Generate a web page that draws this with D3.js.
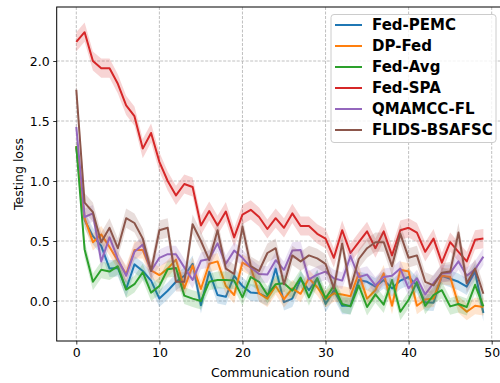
<!DOCTYPE html>
<html>
<head>
<meta charset="utf-8">
<script src="https://cdn.jsdelivr.net/npm/d3@7"></script>
<style>
html,body{margin:0;padding:0;background:#fff;}
svg{display:block;font-family:"DejaVu Sans",sans-serif;}
</style>
</head>
<body>
<svg id="chart" width="500" height="383"></svg>
<script>
const rounds = d3.range(0, 50);
const seriesNames = ["Fed-PEMC", "DP-Fed", "Fed-Avg", "Fed-SPA", "QMAMCC-FL", "FLIDS-BSAFSC"];
const colors = ["#1f77b4", "#ff7f0e", "#2ca02c", "#d62728", "#9467bd", "#8c564b"];

const fedPEMC = [1.28,0.675,0.54,0.46,0.27,0.275,0.10,0.305,0.25,0.17,0.02,0.085,0.16,0.21,0.31,-0.035,0.245,0.05,0.035,0.21,0.125,0.07,0.064,0.03,0.27,-0.01,0.02,0.18,0.09,0.19,-0.025,0.09,-0.04,-0.04,0.175,0.16,0.12,0.175,0.105,0.17,0.20,0.13,-0.01,-0.014,0.21,0.185,0.16,0.12,0.245,-0.10];
const dpFed = [1.29,0.69,0.49,0.555,0.45,0.335,0.225,0.425,0.425,0.255,0.215,0.27,0.345,0.105,0.295,0.10,0.31,0.33,0.125,0.05,0.32,0.28,0.064,0.02,0.125,0.015,0.105,0.06,0.19,0.115,0.015,0.064,0.055,0.04,0.23,0.02,0.09,0.23,-0.04,0.26,0.245,-0.04,0.012,0.02,0.21,0.20,-0.03,-0.09,-0.04,-0.05];
const fedAvg = [1.29,0.43,0.16,0.26,0.245,0.29,0.095,0.14,0.24,0.07,0.125,0.265,0.275,0.045,0.02,0.0,0.16,0.175,0.175,0.17,0.03,0.20,0.16,0.05,0.14,0.147,0.086,0.195,0.03,0.19,0.022,0.125,-0.025,-0.045,0.13,-0.05,0.055,-0.03,0.175,-0.09,0.01,0.16,-0.04,0.05,0.09,-0.045,-0.025,-0.05,0.135,-0.045];
const fedSPA = [2.16,2.24,2.00,1.94,1.94,1.81,1.63,1.54,1.27,1.40,1.16,1.00,0.88,0.975,0.95,0.63,0.75,0.63,0.745,0.53,0.72,0.76,0.70,0.60,0.69,0.61,0.73,0.625,0.625,0.56,0.52,0.36,0.59,0.40,0.49,0.58,0.44,0.58,0.38,0.59,0.61,0.57,0.41,0.52,0.32,0.49,0.41,0.33,0.51,0.52];
const qmamccFL = [1.45,0.70,0.73,0.33,0.53,0.35,0.21,0.41,0.47,0.25,0.36,0.39,0.39,0.28,0.175,0.335,0.35,0.48,0.31,0.42,0.36,0.28,0.225,0.22,0.34,0.26,0.42,0.425,0.18,0.22,0.245,0.19,0.17,0.375,0.20,0.22,0.13,0.20,0.21,0.27,0.105,0.19,0.055,0.15,0.23,0.235,0.33,0.21,0.265,0.37];
const flidsBSAFSC = [1.76,0.82,0.74,0.49,0.61,0.44,0.69,0.65,0.52,0.25,0.59,0.61,0.16,0.16,0.64,0.50,0.34,0.59,0.27,0.225,0.62,0.29,0.25,0.40,0.44,0.14,0.38,0.33,0.38,0.355,0.31,0.105,0.48,0.105,0.35,0.44,0.49,0.49,0.29,0.56,0.36,0.38,0.16,0.13,0.235,0.245,0.57,0.147,0.27,0.06];
const bandHalfWidth = [0.07, 0.07, 0.07, 0.08, 0.07, 0.08];

const xTicks = [0, 10, 20, 30, 40, 50];
const yTicks = [0.0, 0.5, 1.0, 1.5, 2.0];
const xLabel = "Communication round";
const yLabel = "Testing loss";

const allSeries = [fedPEMC, dpFed, fedAvg, fedSPA, qmamccFL, flidsBSAFSC];

const svg = d3.select("#chart");
const plot = {left: 56.7, right: 504, top: 7, bottom: 341};

const x = d3.scaleLinear().domain([0, 50]).range([76.3, 491.7]);
const y = d3.scaleLinear().domain([0, 2]).range([301, 61]);

svg.append("defs").append("clipPath").attr("id", "clip")
  .append("rect").attr("x", plot.left).attr("y", plot.top)
  .attr("width", plot.right - plot.left).attr("height", plot.bottom - plot.top);

// grid
const grid = svg.append("g");
grid.selectAll(".gx").data(xTicks).join("line")
  .attr("x1", d => x(d)).attr("x2", d => x(d))
  .attr("y1", plot.top).attr("y2", plot.bottom)
  .attr("stroke", "#b0b0b0").attr("stroke-width", 0.8)
  .attr("stroke-dasharray", "3,1.5");
grid.selectAll(".gy").data(yTicks).join("line")
  .attr("x1", plot.left).attr("x2", plot.right)
  .attr("y1", d => y(d)).attr("y2", d => y(d))
  .attr("stroke", "#b0b0b0").attr("stroke-width", 0.8)
  .attr("stroke-dasharray", "3,1.5");

const g = svg.append("g").attr("clip-path", "url(#clip)");
const area = d3.area().x((d, i) => x(rounds[i]));
const line = d3.line().x((d, i) => x(rounds[i])).y(d => y(d));

allSeries.forEach((s, k) => {
  const hw = bandHalfWidth[k];
  g.append("path").datum(s)
    .attr("d", d3.area().x((d, i) => x(rounds[i])).y0(d => y(d - hw)).y1(d => y(d + hw)))
    .attr("fill", colors[k]).attr("fill-opacity", 0.2).attr("stroke", "none");
  g.append("path").datum(s)
    .attr("d", line)
    .attr("fill", "none").attr("stroke", colors[k]).attr("stroke-width", 2)
    .attr("stroke-linejoin", "round");
});

// axes
const xAxis = svg.append("g").attr("transform", `translate(0,${plot.bottom})`)
  .call(d3.axisBottom(x).tickValues(xTicks).tickSize(3.5).tickPadding(3.5).tickFormat(d3.format("d")));
const yAxis = svg.append("g").attr("transform", `translate(${plot.left},0)`)
  .call(d3.axisLeft(y).tickValues(yTicks).tickSize(3.5).tickPadding(3.5).tickFormat(d3.format(".1f")));
[xAxis, yAxis].forEach(a => {
  a.select(".domain").remove();
  a.selectAll("line").attr("stroke", "#000").attr("stroke-width", 0.8);
  a.selectAll("text").attr("font-family", "DejaVu Sans").attr("font-size", 12.5).attr("fill", "#000");
});

// spines
svg.append("rect").attr("x", plot.left).attr("y", plot.top)
  .attr("width", plot.right - plot.left).attr("height", plot.bottom - plot.top)
  .attr("fill", "none").attr("stroke", "#000").attr("stroke-width", 1);

svg.append("text").attr("x", (plot.left + 504) / 2).attr("y", 377)
  .attr("text-anchor", "middle").attr("font-size", 12.5).text(xLabel);
svg.append("text").attr("transform", `translate(18,${(plot.top + plot.bottom) / 2}) rotate(-90)`)
  .attr("text-anchor", "middle").attr("dominant-baseline", "central").attr("font-size", 12.5).text(yLabel);

// legend
const lg = svg.append("g");
lg.append("rect").attr("x", 331).attr("y", 14.5).attr("width", 165).attr("height", 128)
  .attr("rx", 3).attr("fill", "#fff").attr("fill-opacity", 0.8)
  .attr("stroke", "#cccccc").attr("stroke-width", 1);
seriesNames.forEach((n, k) => {
  const yy = 25 + k * 21;
  lg.append("line").attr("x1", 335).attr("x2", 362).attr("y1", yy).attr("y2", yy)
    .attr("stroke", colors[k]).attr("stroke-width", 2);
  lg.append("text").attr("x", 372).attr("y", yy).attr("dominant-baseline", "central")
    .attr("font-weight", "bold").attr("font-size", 15).text(n);
});
</script>
</body>
</html>
